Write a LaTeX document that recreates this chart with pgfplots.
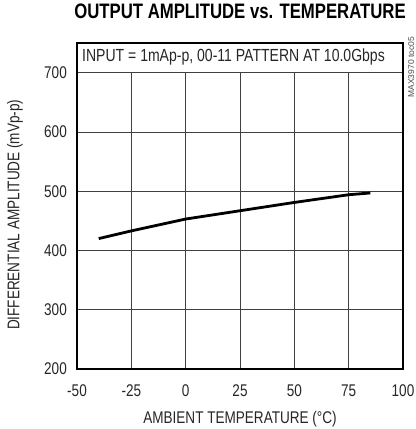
\documentclass[border=0pt]{standalone}
\usepackage{pgfplots}
\pgfplotsset{compat=1.18}
\usepackage{fontspec}
\setmainfont{Liberation Sans}[FakeStretch=0.8]
\newfontfamily\plainsans{Liberation Sans}
\begin{document}
\begin{tikzpicture}
\begin{axis}[
    name=ax,
    width=326bp, height=326bp, scale only axis,
    xmin=-50, xmax=100, ymin=200, ymax=750,
    xtick={-50,-25,...,100},
    ytick={200,300,...,700},
    grid=major,
    major grid style={black!75, line width=0.8bp},
    axis line style={line width=2.2bp},
    major tick length=0pt,
    clip=false,
    /pgf/number format/assume math mode=true,
    tick label style={font=\fontsize{17}{17}\selectfont, text=black!85, inner sep=0pt},
    xticklabel style={anchor=base, yshift=-28bp},
    yticklabel style={anchor=east, xshift=-10bp},
    label style={font=\fontsize{17}{17}\selectfont, text=black!85, inner sep=0pt},
    xlabel={AMBIENT TEMPERATURE (°C)},
    xlabel style={at={(axis description cs:0.5,0)}, anchor=base, yshift=-54bp},
    ylabel={DIFFERENTIAL AMPLITUDE (mVp-p)},
    ylabel style={at={([xshift=-62bp]axis description cs:0,0.473)}, anchor=center},
    title={OUTPUT AMPLITUDE vs. TEMPERATURE},
    title style={font=\fontsize{21}{21}\selectfont\bfseries, inner sep=0pt,
        at={(axis description cs:0.5,1)}, anchor=base, yshift=19bp},
]
\addplot[black, line width=2.8bp] coordinates {
    (-40,420) (-25,433) (0,453) (25,467) (50,481) (75,494) (85,497)
};
% white band for the test condition
\fill[white] ([yshift=0.5bp]axis cs:-50,700) rectangle (axis cs:100,750);
\draw[line width=2.2bp] (rel axis cs:0,0) rectangle (rel axis cs:1,1);
\node[anchor=base west, font=\fontsize{17.6}{17.6}\selectfont, text=black!85, inner sep=0pt]
    at ([xshift=5bp]axis cs:-50,718) {INPUT = 1mAp-p, 00-11 PATTERN AT 10.0Gbps};
\node[rotate=90, anchor=north east, font=\plainsans\fontsize{8.5}{8.5}\selectfont, text=black!70, inner sep=0pt]
    at ([xshift=5bp, yshift=6bp]rel axis cs:1,1) {MAX3970 toc05};
\end{axis}
\pgfresetboundingbox
\path[use as bounding box] ([xshift=-77bp, yshift=-60bp]ax.south west)
    rectangle ([xshift=12bp, yshift=43bp]ax.north east);
\end{tikzpicture}
\end{document}
